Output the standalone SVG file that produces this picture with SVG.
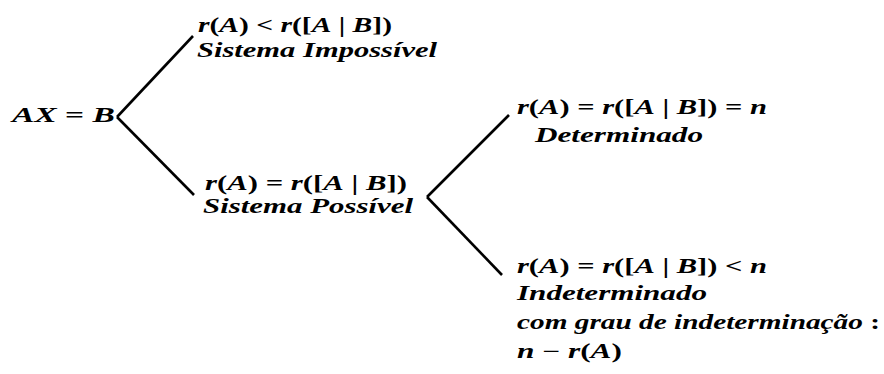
<svg xmlns="http://www.w3.org/2000/svg" width="884" height="374" viewBox="0 0 884 374">
<style>
text{font-family:"Liberation Serif","DejaVu Serif",serif;font-size:20px;font-weight:bold;font-style:italic;fill:#000}
.u{font-style:normal}
.c line{stroke:#000;stroke-width:2.6;stroke-linecap:butt}
</style>
<rect width="884" height="374" fill="#fff"/>
<g class="c" id="connectors">
<line x1="117" y1="117" x2="193" y2="36"/>
<line x1="117" y1="117" x2="194" y2="195"/>
<line x1="427" y1="197" x2="509" y2="115"/>
<line x1="427" y1="197" x2="502" y2="275"/>
</g>
<g id="root"><text x="12" y="122" textLength="103" lengthAdjust="spacingAndGlyphs">AX <tspan class="u">=</tspan> B</text></g>
<g id="impossivel">
<text x="198" y="32" textLength="194" lengthAdjust="spacingAndGlyphs">r<tspan class="u">(</tspan>A<tspan class="u">) &lt; </tspan>r<tspan class="u">([</tspan>A<tspan class="u"> | </tspan>B<tspan class="u">])</tspan></text>
<text x="197" y="57" textLength="240" lengthAdjust="spacingAndGlyphs">Sistema Impossível</text>
</g>
<g id="possivel">
<text x="205" y="190" textLength="202" lengthAdjust="spacingAndGlyphs">r<tspan class="u">(</tspan>A<tspan class="u">) = </tspan>r<tspan class="u">([</tspan>A<tspan class="u"> | </tspan>B<tspan class="u">])</tspan></text>
<text x="203" y="213" textLength="210" lengthAdjust="spacingAndGlyphs">Sistema Possível</text>
</g>
<g id="determinado">
<text x="517" y="114" textLength="250" lengthAdjust="spacingAndGlyphs">r<tspan class="u">(</tspan>A<tspan class="u">) = </tspan>r<tspan class="u">([</tspan>A<tspan class="u"> | </tspan>B<tspan class="u">]) = </tspan>n</text>
<text x="535" y="142" textLength="168" lengthAdjust="spacingAndGlyphs">Determinado</text>
</g>
<g id="indeterminado">
<text x="517" y="273" textLength="250" lengthAdjust="spacingAndGlyphs">r<tspan class="u">(</tspan>A<tspan class="u">) = </tspan>r<tspan class="u">([</tspan>A<tspan class="u"> | </tspan>B<tspan class="u">]) &lt; </tspan>n</text>
<text x="517" y="300" textLength="190" lengthAdjust="spacingAndGlyphs">Indeterminado</text>
<text x="517" y="329" textLength="363" lengthAdjust="spacingAndGlyphs">com grau de indeterminação <tspan class="u">:</tspan></text>
<text x="517" y="358" textLength="105" lengthAdjust="spacingAndGlyphs">n <tspan class="u">−</tspan> r<tspan class="u">(</tspan>A<tspan class="u">)</tspan></text>
</g>
</svg>
